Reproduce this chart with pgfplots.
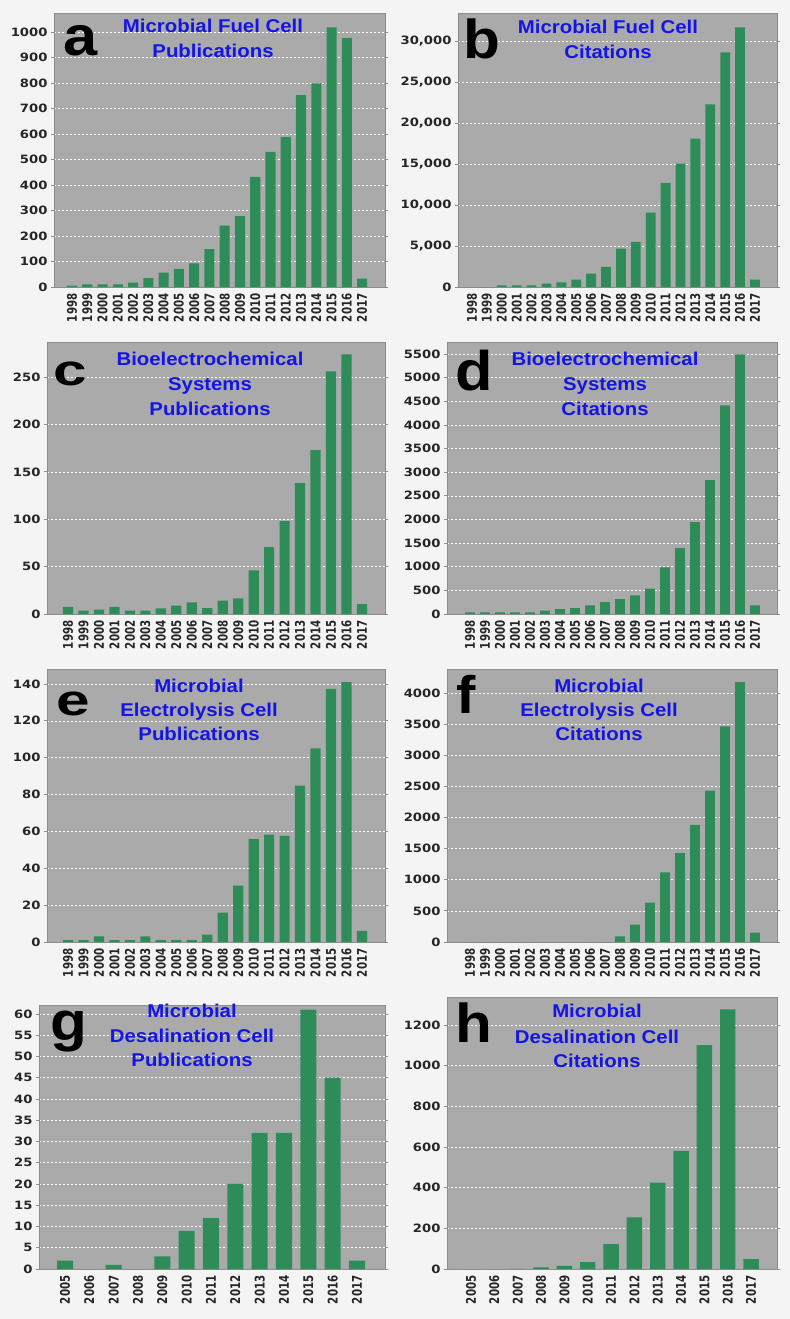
\documentclass[border=0pt]{standalone}
\usepackage{fontspec}
\usepackage{pgfplots}
\pgfplotsset{compat=1.18}
\setmainfont{Liberation Sans}
\newfontfamily\tickfont{DejaVu Sans}[FakeStretch=1.15]
\newfontfamily\xtfont{DejaVu Sans}
\newfontfamily\titlefont{Liberation Sans}[FakeStretch=1.1]
\newfontfamily\bigfont{Liberation Sans}[FakeStretch=1.1]
\definecolor{plotbg}{RGB}{170,170,170}
\definecolor{barg}{RGB}{46,140,88}
\definecolor{ttl}{RGB}{20,20,230}
\definecolor{pagebg}{RGB}{244,244,244}
\definecolor{frm}{RGB}{140,140,140}
\pgfplotsset{
  panel/.style={
    scale only axis,
    ybar, bar width=0.66,
    ymin=0,
    axis background/.style={fill=plotbg},
    axis line style={draw=frm, line width=0.8bp},
    ymajorgrids,
    grid style={white, dash pattern=on 2bp off 2bp, line width=0.6bp},
    tick align=outside,
    major tick length=3bp,
    xtick style={draw=none},
    ytick style={draw=frm, line width=0.8bp},
    scaled y ticks=false,
    /pgf/number format/assume math mode=true,
    yticklabel style={font=\tickfont\bfseries\fontsize{11.5}{12}\selectfont, text=black!85, /pgf/number format/1000 sep={}},
    xticklabel style={font=\xtfont\bfseries\fontsize{10.3}{10.3}\selectfont, xscale=1.3, rotate=90, anchor=east, text=black!85, /pgf/number format/1000 sep={}},
    enlarge x limits=false,
    cycle list={{fill=barg, draw=none}},
  },
  yrsA/.style={xtick={1998,1999,...,2017}},
  yrsB/.style={xtick={2005,2006,...,2017}},
}
\tikzset{
  ttlnode/.style={font=\titlefont\bfseries\fontsize{18.6}{20}\selectfont, text=ttl, anchor=base, inner sep=0pt},
  bignode/.style={font=\bigfont\bfseries\fontsize{#1}{#1}\selectfont, text=black, anchor=base west, inner sep=0pt},
}
\begin{document}
\begin{tikzpicture}
\path[use as bounding box] (0,0) rectangle (790bp,-1319bp);
\fill[pagebg] (0,0) rectangle (790bp,-1319bp);

% a
\begin{axis}[panel, yrsA, at={(54bp,-13bp)}, anchor=north west, width=331bp, height=274bp,
  xmin=1996.82, xmax=2018.5, ymax=1075, ytick={0,100,...,1000}]
\addplot[fill=barg, draw=none] coordinates {(1998,5) (1999,10) (2000,10) (2001,10) (2002,17) (2003,35) (2004,56) (2005,71) (2006,93) (2007,149) (2008,241) (2009,278) (2010,432) (2011,530) (2012,589) (2013,753) (2014,799) (2015,1019) (2016,977) (2017,33)};
\end{axis}

% b
\begin{axis}[panel, yrsA, at={(458bp,-13bp)}, anchor=north west, width=319bp, height=274bp,
  xmin=1997.06, xmax=2018.48, ymax=33415, ytick={0,5000,...,30000},
  yticklabel style={/pgf/number format/1000 sep={,}}]
\addplot[fill=barg, draw=none] coordinates {(1998,0) (1999,0) (2000,200) (2001,200) (2002,200) (2003,400) (2004,550) (2005,900) (2006,1630) (2007,2440) (2008,4680) (2009,5490) (2010,9080) (2011,12700) (2012,15060) (2013,18110) (2014,22260) (2015,28610) (2016,31660) (2017,900)};
\end{axis}

% c
\begin{axis}[panel, yrsA, at={(47bp,-342bp)}, anchor=north west, width=338bp, height=272bp,
  xmin=1996.64, xmax=2018.49, ymax=287, ytick={0,50,...,250}]
\addplot[fill=barg, draw=none] coordinates {(1998,7.4) (1999,3.5) (2000,4.6) (2001,7.4) (2002,3.5) (2003,3.5) (2004,6) (2005,8.8) (2006,12.3) (2007,6.3) (2008,14) (2009,16.5) (2010,46) (2011,70.5) (2012,98) (2013,138) (2014,173) (2015,256) (2016,274) (2017,10.5)};
\end{axis}

% d
\begin{axis}[panel, yrsA, at={(447bp,-342bp)}, anchor=north west, width=330bp, height=272bp,
  xmin=1996.47, xmax=2018.47, ymax=5754, ytick={0,500,...,5500}]
\addplot[fill=barg, draw=none] coordinates {(1998,35) (1999,35) (2000,35) (2001,35) (2002,35) (2003,70) (2004,105) (2005,127) (2006,183) (2007,254) (2008,317) (2009,395) (2010,536) (2011,987) (2012,1396) (2013,1946) (2014,2830) (2015,4413) (2016,5490) (2017,183)};
\end{axis}

% e
\begin{axis}[panel, yrsA, at={(47bp,-669bp)}, anchor=north west, width=338bp, height=273bp,
  xmin=1996.64, xmax=2018.49, ymax=148.1, ytick={0,20,...,140}]
\addplot[fill=barg, draw=none] coordinates {(1998,1) (1999,1) (2000,3) (2001,1) (2002,1) (2003,3) (2004,1) (2005,1) (2006,1) (2007,4) (2008,16) (2009,30.6) (2010,55.8) (2011,58.3) (2012,57.6) (2013,84.8) (2014,105) (2015,137.3) (2016,141) (2017,6)};
\end{axis}

% f
\begin{axis}[panel, yrsA, at={(447bp,-669bp)}, anchor=north west, width=330bp, height=273bp,
  xmin=1996.47, xmax=2018.47, ymax=4386, ytick={0,500,...,4000}]
\addplot[fill=barg, draw=none] coordinates {(1998,0) (1999,0) (2000,0) (2001,0) (2002,0) (2003,0) (2004,0) (2005,0) (2006,0) (2007,0) (2008,91) (2009,279) (2010,634) (2011,1117) (2012,1434) (2013,1880) (2014,2432) (2015,3463) (2016,4177) (2017,150)};
\end{axis}

% g
\begin{axis}[panel, yrsB, at={(39bp,-1005bp)}, anchor=north west, width=346bp, height=264bp,
  xmin=2003.93, xmax=2018.15, ymax=62.1, ytick={0,5,...,60}]
\addplot[fill=barg, draw=none] coordinates {(2005,2) (2006,0) (2007,1) (2008,0) (2009,3) (2010,9) (2011,12) (2012,20) (2013,32) (2014,32) (2015,61) (2016,45) (2017,2)};
\end{axis}

% h
\begin{axis}[panel, yrsB, at={(447bp,-997bp)}, anchor=north west, width=330bp, height=272bp,
  xmin=2003.97, xmax=2018.11, ymax=1338, ytick={0,200,...,1200}]
\addplot[fill=barg, draw=none] coordinates {(2005,0) (2006,0) (2007,1) (2008,8) (2009,16) (2010,34) (2011,123) (2012,254) (2013,425) (2014,581) (2015,1101) (2016,1277) (2017,49)};
\end{axis}

% titles
\node[ttlnode] at (213bp,-32bp) {Microbial Fuel Cell};
\node[ttlnode] at (213bp,-57bp) {Publications};
\node[ttlnode] at (608bp,-33bp) {Microbial Fuel Cell};
\node[ttlnode] at (608bp,-58bp) {Citations};
\node[ttlnode] at (210bp,-365bp) {Bioelectrochemical};
\node[ttlnode] at (210bp,-390bp) {Systems};
\node[ttlnode] at (210bp,-415bp) {Publications};
\node[ttlnode] at (605bp,-365bp) {Bioelectrochemical};
\node[ttlnode] at (605bp,-390bp) {Systems};
\node[ttlnode] at (605bp,-415bp) {Citations};
\node[ttlnode] at (199bp,-692bp) {Microbial};
\node[ttlnode] at (199bp,-716bp) {Electrolysis Cell};
\node[ttlnode] at (199bp,-740bp) {Publications};
\node[ttlnode] at (599bp,-692bp) {Microbial};
\node[ttlnode] at (599bp,-716bp) {Electrolysis Cell};
\node[ttlnode] at (599bp,-740bp) {Citations};
\node[ttlnode] at (192bp,-1017bp) {Microbial};
\node[ttlnode] at (192bp,-1042bp) {Desalination Cell};
\node[ttlnode] at (192bp,-1066bp) {Publications};
\node[ttlnode] at (597bp,-1017bp) {Microbial};
\node[ttlnode] at (597bp,-1043bp) {Desalination Cell};
\node[ttlnode] at (597bp,-1067bp) {Citations};

% panel letters
\node[bignode=56] at (63bp,-55bp) {a};
\node[bignode=55] at (463bp,-58bp) {b};
\node[bignode=44, xscale=1.25] at (53bp,-385bp) {c};
\node[bignode=56] at (455bp,-390bp) {d};
\node[bignode=44, xscale=1.25] at (56bp,-715bp) {e};
\node[bignode=53] at (456bp,-713bp) {f};
\node[bignode=55] at (50bp,-1040bp) {g};
\node[bignode=55] at (455bp,-1042bp) {h};
\end{tikzpicture}
\end{document}
